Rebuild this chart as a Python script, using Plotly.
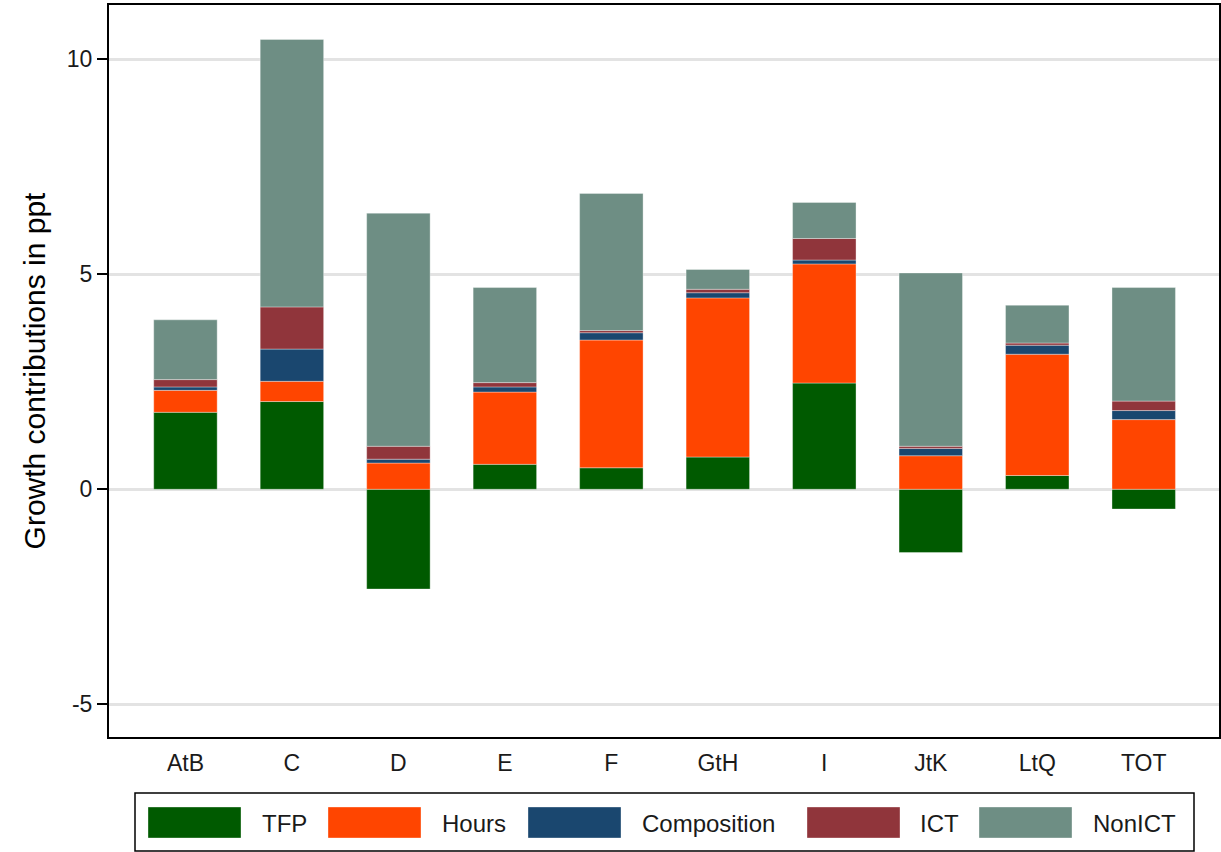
import plotly.graph_objects as go

# ---- data ----
categories = ["AtB", "C", "D", "E", "F", "GtH", "I", "JtK", "LtQ", "TOT"]
tfp         = [1.79, 2.04, -2.32, 0.58, 0.50, 0.75, 2.47, -1.47, 0.32, -0.46]
hours       = [0.51, 0.47, 0.61, 1.68, 2.97, 3.70, 2.77, 0.78, 2.82, 1.62]
composition = [0.08, 0.75, 0.09, 0.12, 0.17, 0.12, 0.09, 0.17, 0.21, 0.21]
ict         = [0.17, 0.98, 0.30, 0.10, 0.05, 0.08, 0.50, 0.05, 0.05, 0.22]
nonict      = [1.39, 6.22, 5.42, 2.21, 3.19, 0.46, 0.84, 4.03, 0.88, 2.64]
y_ticks = [-5, 0, 5, 10]
y_tick_labels = ["-5", "0", "5", "10"]

series_names = ["TFP", "Hours", "Composition", "ICT", "NonICT"]
series_values = [tfp, hours, composition, ict, nonict]
colors = ["#005a00", "#ff4500", "#1a476f", "#90353b", "#6e8e84"]

W, H = 1221, 852
L, R, T, B = 109, 2, 5, 115
pw, ph = W - L - R, H - T - B

def px(x):
    return (x - L) / pw

def py(y):
    return (H - B - y) / ph

FONT = "Liberation Sans, Arial, sans-serif"

fig = go.Figure()
for name, vals, col in zip(series_names, series_values, colors):
    fig.add_trace(go.Bar(
        x=categories, y=vals, name=name,
        marker=dict(color=col, line=dict(color="rgba(255,255,255,0.35)", width=1)),
        showlegend=False,
    ))

# custom legend (large swatches as in the reference)
sw_x = [148, 328, 528, 807, 979]
lab_x = [260, 440, 640, 918, 1091]
shapes = [dict(type="rect", xref="paper", yref="paper",
               x0=px(135), x1=px(1194), y0=py(851), y1=py(793),
               line=dict(color="black", width=1.5), fillcolor="white", layer="above")]
annotations = []
for name, col, sx, lx in zip(series_names, colors, sw_x, lab_x):
    shapes.append(dict(type="rect", xref="paper", yref="paper",
                       x0=px(sx), x1=px(sx + 93), y0=py(838), y1=py(807),
                       line=dict(color="rgba(255,255,255,0.35)", width=1),
                       fillcolor=col, layer="above"))
    annotations.append(dict(xref="paper", yref="paper", x=px(lx), y=py(823),
                            text=name, showarrow=False, xanchor="left", yanchor="middle",
                            font=dict(family=FONT, size=24, color="#1a1a1a")))

fig.update_layout(
    width=W, height=H,
    margin=dict(l=L, r=R, t=T, b=B, autoexpand=False),
    barmode="relative",
    bargap=0.404,
    plot_bgcolor="white", paper_bgcolor="white",
    font=dict(family=FONT, size=23, color="#1a1a1a"),
    shapes=shapes, annotations=annotations,
    xaxis=dict(
        type="category", range=[-0.718, 9.707],
        showline=True, linecolor="black", linewidth=2, mirror=True,
        ticks="", showgrid=False, ticklabelstandoff=4,
        tickfont=dict(family=FONT, size=23, color="#1a1a1a"),
    ),
    yaxis=dict(
        range=[-5.76, 11.26],
        tickvals=y_ticks, ticktext=y_tick_labels,
        showline=True, linecolor="black", linewidth=2, mirror=True,
        ticks="outside", ticklen=10, tickwidth=1.5, tickcolor="black",
        showgrid=True, gridcolor="#e3e3e3", gridwidth=2.5,
        zeroline=True, zerolinecolor="#e3e3e3", zerolinewidth=2.5,
        tickfont=dict(family=FONT, size=23, color="#1a1a1a"),
        title=dict(text="Growth contributions in ppt",
                   font=dict(family=FONT, size=30, color="black"), standoff=12),
    ),
)

fig.write_html("out.html",
               config={"displayModeBar": False},
               post_script="document.body.style.margin='0';document.body.style.overflow='hidden';")
